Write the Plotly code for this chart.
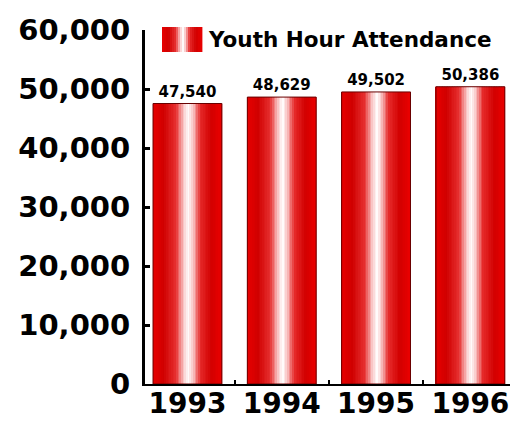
import plotly.graph_objects as go
from plotly.colors import sample_colorscale

# Data
years = ["1993", "1994", "1995", "1996"]
attendance = [47540, 48629, 49502, 50386]
series_name = "Youth Hour Attendance"
y_ticks = [0, 10000, 20000, 30000, 40000, 50000, 60000]

FONT = "DejaVu Sans"
BAR_W = 0.73
N_STRIPS = 41

# Horizontal shading across each bar: red edges, white highlight in the middle
shade = [
    [0.00, "#e80000"], [0.16, "#d00000"], [0.34, "#e63030"], [0.45, "#f9c4c4"],
    [0.52, "#ffffff"], [0.59, "#f8c0c0"], [0.69, "#e62a2a"], [0.85, "#d20000"],
    [1.00, "#ea0000"],
]
strip_colors = sample_colorscale(shade, [(i + 0.5) / N_STRIPS for i in range(N_STRIPS)])

fig = go.Figure()

# Each bar is built from thin vertical strips sharing the same data values
step = BAR_W / N_STRIPS
for i, c in enumerate(strip_colors):
    fig.add_bar(
        x=years, y=attendance,
        width=step * 1.15, offset=-BAR_W / 2 + i * step,
        marker=dict(color=c, line_width=0),
        showlegend=False, hoverinfo="skip",
    )

# Outline and value labels
fig.add_bar(
    x=years, y=attendance, name=series_name,
    width=BAR_W, offset=-BAR_W / 2,
    marker=dict(color="rgba(0,0,0,0)", line=dict(color="#6a0000", width=1)),
    text=[f"{v:,}" for v in attendance], textposition="outside",
    textfont=dict(family=FONT, size=15, color="black", weight="bold"),
    cliponaxis=False, showlegend=False,
)

# Legend swatch drawn with the same shading
L, R, T, B = 145, 510, 30, 384
def px_x(p):
    return (p - L) / (R - L)
def px_y(p):
    return (B - p) / (B - T)

sw_x0, sw_x1, sw_y0, sw_y1 = 162, 202, 27, 52
n_sw = 20
sw_colors = sample_colorscale(shade, [(i + 0.5) / n_sw for i in range(n_sw)])
sw_step = (sw_x1 - sw_x0) / n_sw
for i, c in enumerate(sw_colors):
    fig.add_shape(
        type="rect", xref="paper", yref="paper",
        x0=px_x(sw_x0 + i * sw_step), x1=px_x(sw_x0 + (i + 1) * sw_step + 0.4),
        y0=px_y(sw_y1), y1=px_y(sw_y0),
        fillcolor=c, line_width=0, layer="above",
    )
fig.add_annotation(
    text=series_name, xref="paper", yref="paper",
    x=px_x(206), y=px_y(39), xanchor="left", yanchor="middle",
    showarrow=False, font=dict(family=FONT, size=21.5, color="black", weight="bold"),
)

fig.update_layout(
    width=512, height=422,
    margin=dict(l=L, r=512 - R, t=T, b=422 - B),
    barmode="overlay",
    plot_bgcolor="white", paper_bgcolor="white",
    showlegend=False,
    xaxis=dict(
        type="category", range=[-0.45, 3.42], automargin=False,
        showline=True, linecolor="black", linewidth=2,
        ticks="inside", tickson="boundaries", ticklen=4, tickwidth=2, tickcolor="black",
        tickfont=dict(family=FONT, size=28, color="black", weight="bold"),
        ticklabelstandoff=-7,
        showgrid=False,
    ),
    yaxis=dict(
        range=[0, 60000], tickvals=y_ticks, tickformat=",", automargin=False,
        showline=True, linecolor="black", linewidth=3,
        ticks="inside", ticklen=5, tickwidth=3, tickcolor="black",
        tickfont=dict(family=FONT, size=29, color="black", weight="bold"),
        ticklabelstandoff=6,
        showgrid=False, zeroline=False,
    ),
)

fig.write_html("out.html")
